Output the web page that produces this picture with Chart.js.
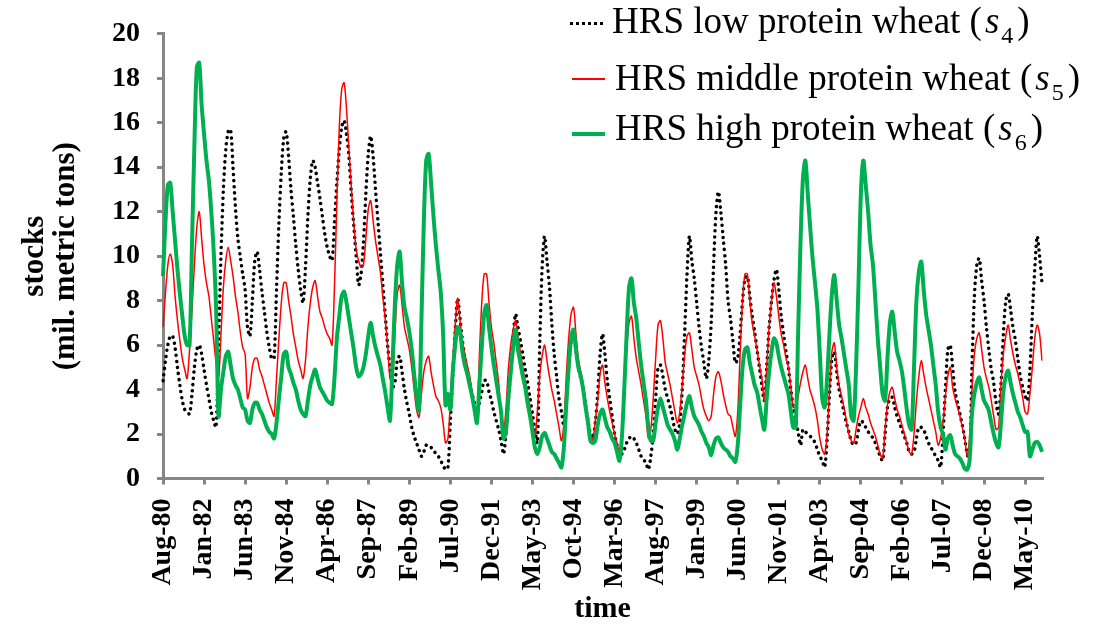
<!DOCTYPE html>
<html>
<head>
<meta charset="utf-8">
<script src="https://cdn.jsdelivr.net/npm/chart.js@4.4.1/dist/chart.umd.min.js"></script>
<style>
  body { margin: 0; background: #fff; }
  #wrap { position: relative; width: 1096px; height: 627px; overflow: hidden; }
  #legend { position: absolute; left: 0; top: 0; font-family: 'Liberation Serif', 'Times New Roman', serif; font-size: 37px; color: #000; }
  .item { position: absolute; white-space: nowrap; line-height: 37px; }
  .item i { margin-left: 3px; }
  .item .sub { font-size: 24px; position: relative; top: 10px; margin: 0 4px 0 2px; }
  .key { position: absolute; width: 33px; height: 0; }
</style>
</head>
<body>
<div id="wrap">
  <canvas id="chart" width="1096" height="627"></canvas>
  <div id="legend">
    <div class="key" style="left:570px; top:22px; border-top:3px dotted #000;"></div>
    <div class="item" style="left:612px; top:2px;">HRS low protein wheat (<i>s</i><span class="sub">4</span>)</div>
    <div class="key" style="left:572px; top:78px; border-top:2px solid #ff0000;"></div>
    <div class="item" style="left:615px; top:59px;">HRS middle protein wheat (<i>s</i><span class="sub">5</span>)</div>
    <div class="key" style="left:572px; top:132px; border-top:4px solid #00b050;"></div>
    <div class="item" style="left:615px; top:109px;">HRS high protein wheat (<i>s</i><span class="sub">6</span>)</div>
  </div>
</div>
<script>
// monthly stocks, Aug-80 .. Dec-10, one row per crop year (Aug..Jul)
const s4 = [
  4.4,5.3,6.0,6.4,6.4,5.9,5.0,4.2,3.5,3.1,3.0,2.9,
  3.8,5.0,5.8,6.0,5.6,4.9,4.2,3.6,3.0,2.6,2.3,6.0,
  10.0,13.0,14.8,15.6,15.7,14.0,12.2,10.8,10.0,9.2,8.5,6.8,
  6.4,8.0,9.8,10.2,9.4,8.4,7.5,6.6,5.9,5.4,5.4,8.5,
  11.5,13.8,15.3,15.6,14.5,13.0,11.8,10.5,9.4,8.5,7.9,9.5,
  11.8,13.5,14.3,14.0,13.3,12.6,11.8,11.0,10.4,10.0,9.8,11.5,
  13.3,14.8,15.8,16.1,15.5,14.5,12.8,11.4,10.0,8.7,9.2,10.6,
  12.8,14.6,15.4,14.5,13.0,11.6,10.2,8.8,7.4,6.0,5.0,4.1,
  4.3,5.3,5.5,4.8,4.0,3.4,2.9,2.3,1.9,1.6,1.3,1.0,
  1.2,1.5,1.5,1.4,1.3,1.1,1.0,0.8,0.6,0.4,0.5,2.6,
  4.6,6.6,8.1,7.2,6.2,5.4,4.8,4.3,3.8,3.4,3.0,3.4,
  3.9,4.4,4.4,3.9,3.5,3.0,2.6,2.2,1.7,1.1,2.0,3.5,
  4.8,6.3,7.4,6.8,6.2,5.6,4.9,4.3,3.6,2.9,2.2,1.6,
  6.0,9.5,10.9,9.8,8.7,7.0,5.6,4.6,3.6,3.0,2.4,3.5,
  5.0,6.2,6.7,5.8,5.0,4.5,4.0,3.3,2.6,2.0,1.8,2.5,
  3.8,5.6,6.5,5.6,4.4,3.6,2.8,2.0,1.5,1.1,1.1,1.3,
  1.6,1.8,1.9,1.8,1.6,1.3,1.0,0.85,0.7,0.4,1.0,2.0,
  3.6,5.0,5.1,4.6,4.0,3.6,3.2,2.7,2.2,2.0,2.5,4.0,
  6.5,9.2,10.9,9.8,9.0,7.9,6.8,5.9,5.2,4.5,5.3,7.0,
  9.6,12.0,12.9,12.0,10.8,9.6,8.0,7.2,6.2,5.2,5.4,6.5,
  8.0,9.0,9.1,8.2,7.3,6.6,5.8,5.0,4.2,3.5,5.0,6.8,
  8.0,8.9,9.4,8.5,7.3,6.5,5.7,5.0,4.0,3.2,2.6,2.1,
  1.5,2.2,2.1,2.0,1.9,1.8,1.6,1.3,1.0,0.8,0.5,1.8,
  3.8,5.4,5.7,4.8,4.0,3.5,3.0,2.5,2.1,1.7,1.5,1.6,
  2.2,2.6,2.5,2.3,2.1,2.0,1.8,1.6,1.3,1.0,0.8,2.0,
  3.2,3.6,3.65,3.2,2.8,2.5,2.2,1.9,1.6,1.2,1.1,1.2,
  1.8,2.3,2.3,2.2,1.9,1.6,1.4,1.2,1.0,0.8,0.5,2.0,
  4.0,5.8,6.0,5.0,3.9,3.4,2.9,2.4,1.8,1.1,0.8,5.0,
  8.2,9.6,9.9,8.9,8.0,6.8,5.8,4.9,4.3,3.4,2.9,4.2,
  6.5,8.0,8.3,7.6,6.8,6.2,5.4,4.6,4.1,3.7,3.5,4.9,
  7.4,9.4,10.9,10.0,8.8
];
const s5 = [
  6.8,8.3,9.6,10.1,9.6,8.2,7.1,6.2,5.4,4.9,4.5,5.8,
  7.6,9.6,11.3,12.0,10.8,9.6,8.8,8.2,7.2,6.2,5.2,4.5,
  6.5,8.6,9.8,10.4,9.8,9.1,8.2,7.5,6.6,5.9,5.6,3.6,
  4.1,5.0,5.4,5.4,4.9,4.6,4.2,3.8,3.4,3.1,2.8,4.5,
  6.3,7.9,8.8,8.8,8.0,7.3,6.5,5.9,5.3,4.9,4.5,5.3,
  6.8,7.9,8.6,8.9,8.2,7.5,7.2,6.8,6.5,6.3,6.0,8.6,
  12.5,15.8,17.5,17.8,16.6,14.8,13.1,11.5,10.3,9.8,9.5,9.6,
  10.8,12.1,12.5,11.6,10.7,10.0,9.3,8.2,7.2,6.0,4.5,4.3,
  6.4,8.3,8.7,7.8,6.8,6.3,5.8,5.0,4.0,3.1,2.75,3.8,
  4.8,5.3,5.5,4.8,4.2,3.7,3.5,3.2,2.5,1.6,1.8,3.5,
  5.4,6.9,8.1,7.1,6.2,5.6,5.1,4.6,3.9,3.0,2.8,5.5,
  7.9,9.2,9.2,7.9,6.8,6.1,5.2,4.3,3.0,2.1,3.1,4.9,
  6.0,6.7,7.1,6.4,5.7,5.0,4.4,3.8,3.2,2.6,1.9,3.0,
  4.6,5.5,6.0,5.3,4.6,4.0,3.5,2.9,2.3,1.7,2.5,4.6,
  6.3,7.4,7.7,6.5,5.4,4.8,4.2,3.4,2.7,2.0,1.7,2.6,
  3.5,4.7,5.1,4.3,3.6,3.0,2.5,2.0,1.6,1.2,1.9,4.0,
  5.8,7.0,7.3,6.3,5.4,4.8,4.2,3.5,2.8,1.8,2.2,3.6,
  5.4,6.9,7.1,6.3,5.2,4.7,4.2,3.6,3.0,2.5,3.0,4.2,
  5.5,6.4,6.55,5.8,5.0,4.6,4.2,3.6,3.1,2.8,2.6,2.8,
  3.8,4.6,4.8,4.4,3.8,3.3,2.9,2.8,2.3,1.9,3.0,5.6,
  8.0,9.2,9.2,8.0,7.0,6.4,5.8,5.1,4.5,3.5,5.0,6.8,
  8.0,8.8,8.2,7.3,6.5,6.0,5.4,5.0,4.1,3.2,3.2,3.7,
  4.3,4.8,5.1,4.5,3.95,3.6,3.2,2.6,1.8,1.3,1.1,2.0,
  4.0,5.7,6.1,5.0,4.2,3.7,3.2,2.6,2.0,1.7,1.6,2.2,
  2.8,3.2,3.6,3.2,2.9,2.5,2.2,1.9,1.5,1.1,0.9,2.2,
  3.3,3.9,4.1,3.6,3.1,2.8,2.4,2.0,1.6,1.2,1.1,2.0,
  3.5,4.6,5.3,4.7,4.1,3.6,3.1,2.6,2.1,1.5,1.8,2.5,
  3.7,4.6,5.0,4.1,3.6,3.2,2.8,2.3,1.8,1.0,1.8,4.0,
  5.6,6.3,6.55,5.8,5.0,4.5,4.1,3.5,2.8,2.2,2.3,4.2,
  5.6,6.4,6.9,6.2,5.6,5.1,4.7,4.2,3.65,3.0,2.9,3.8,
  5.0,6.3,6.9,6.5,5.3
];
const s6 = [
  9.1,11.5,13.2,13.3,12.0,10.7,9.4,8.3,7.3,6.4,6.0,6.0,
  10.5,15.0,18.5,18.7,16.8,15.5,14.3,13.4,12.0,10.2,7.6,2.8,
  4.0,4.8,5.5,5.7,5.1,4.5,4.2,4.0,3.6,3.2,3.1,2.6,
  2.5,3.1,3.4,3.4,3.1,2.9,2.6,2.3,2.1,2.0,1.8,2.5,
  3.6,4.6,5.6,5.7,5.0,4.7,4.3,4.0,3.5,3.1,2.9,2.8,
  3.5,4.2,4.6,4.9,4.5,4.1,3.9,3.7,3.5,3.4,3.35,4.5,
  6.3,7.3,8.2,8.4,7.9,7.2,6.5,5.8,5.0,4.6,4.7,5.0,
  5.6,6.4,7.0,6.4,5.9,5.5,5.1,4.5,3.9,3.2,2.6,5.0,
  7.8,9.6,10.2,8.8,7.7,7.2,6.6,5.8,4.7,3.7,3.05,7.0,
  11.5,14.3,14.6,13.3,11.8,10.5,9.4,8.4,6.5,3.3,3.8,3.1,
  4.8,6.0,6.8,6.6,5.7,5.1,4.7,4.2,3.7,3.1,2.5,4.2,
  5.9,7.4,7.8,6.8,5.9,5.1,4.4,3.7,3.0,1.8,2.1,3.6,
  4.8,5.9,6.7,5.8,5.2,4.6,4.1,3.4,2.8,2.1,1.4,1.1,
  1.4,1.9,2.05,1.8,1.5,1.2,1.1,0.9,0.7,0.5,1.4,3.3,
  5.0,6.3,6.7,5.8,5.0,4.6,4.0,3.2,2.5,1.7,1.6,1.7,
  2.4,2.9,3.1,2.7,2.3,2.1,1.8,1.6,1.2,0.8,1.8,4.0,
  6.5,8.6,9.0,7.9,7.2,6.1,5.1,4.3,3.5,2.3,1.7,1.7,
  2.5,3.2,3.6,3.2,2.8,2.4,2.2,2.0,1.7,1.3,1.8,2.4,
  2.9,3.4,3.7,3.2,2.8,2.6,2.4,2.1,1.9,1.6,1.4,1.05,
  1.5,1.8,1.85,1.6,1.4,1.3,1.2,1.0,0.9,0.75,1.5,3.3,
  5.0,5.8,5.9,5.2,4.7,4.2,3.9,3.3,2.7,2.2,3.6,4.8,
  5.7,6.3,6.1,5.5,5.0,4.6,4.2,3.8,3.0,2.3,2.3,6.5,
  10.6,13.5,14.3,12.8,11.3,9.9,8.8,7.6,5.6,3.6,3.2,4.5,
  6.5,8.3,9.15,8.0,6.9,6.3,5.6,4.9,4.2,2.8,2.6,5.0,
  8.7,12.8,14.3,13.2,12.0,10.5,9.6,8.0,6.3,5.0,3.8,3.5,
  5.4,7.0,7.5,6.6,5.7,5.3,4.8,4.0,3.1,2.4,2.2,5.0,
  8.0,9.3,9.75,8.5,7.4,6.7,6.0,5.1,4.2,3.0,2.3,2.0,
  1.3,1.8,1.95,1.5,1.1,1.0,0.9,0.7,0.45,0.4,0.8,2.9,
  3.8,4.3,4.55,4.0,3.5,3.3,3.05,2.5,2.0,1.6,1.4,2.5,
  3.9,4.6,4.85,4.3,3.8,3.4,3.0,2.75,2.4,2.1,2.1,1.0,
  1.3,1.6,1.65,1.5,1.2
];

// labelled every 17 months
const tickLabels = ['Aug-80','Jan-82','Jun-83','Nov-84','Apr-86','Sep-87','Feb-89','Jul-90',
  'Dec-91','May-93','Oct-94','Mar-96','Aug-97','Jan-99','Jun-00','Nov-01','Apr-03','Sep-04',
  'Feb-06','Jul-07','Dec-08','May-10'];
const tickStep = 17;

const monthNames = ['Jan','Feb','Mar','Apr','May','Jun','Jul','Aug','Sep','Oct','Nov','Dec'];
const categories = [];
for (let k = 0; k < s4.length; k++) {
  const n = 7 + k;
  categories.push(monthNames[n % 12] + '-' + String(1980 + Math.floor(n / 12)).slice(2));
}

Chart.defaults.font.family = "'Liberation Serif', 'Times New Roman', serif";
Chart.defaults.color = '#000';

const axisGrey = '#868686';

new Chart(document.getElementById('chart'), {
  type: 'line',
  data: {
    labels: categories,
    datasets: [
      { label: 'HRS low protein wheat (s4)', data: s4, borderColor: '#000', borderWidth: 3.5,
        borderDash: [0.1, 6], borderCapStyle: 'round', tension: 0.3,
        pointRadius: 0, fill: false, order: 3 },
      { label: 'HRS middle protein wheat (s5)', data: s5, borderColor: '#ff0000', borderWidth: 1.5,
        tension: 0.3, pointRadius: 0, fill: false, order: 2 },
      { label: 'HRS high protein wheat (s6)', data: s6, borderColor: '#00b050', borderWidth: 4,
        tension: 0.3, pointRadius: 0, fill: false, order: 1 }
    ]
  },
  options: {
    responsive: false,
    animation: false,
    layout: { padding: { top: 30, right: 54, left: 0, bottom: 0 } },
    plugins: { legend: { display: false }, tooltip: { enabled: false } },
    scales: {
      x: {
        grid: { drawOnChartArea: false, drawTicks: true, tickLength: 6, color: axisGrey, lineWidth: 3 },
        border: { color: axisGrey, width: 3 },
        ticks: {
          autoSkip: false, minRotation: 90, maxRotation: 90, padding: 14,
          font: { size: 28, weight: 'bold' },
          callback: (v, i) => (i % tickStep === 0 ? tickLabels[i / tickStep] : null)
        },
        title: { display: true, text: 'time', font: { size: 30, weight: 'bold' }, padding: { top: 0, bottom: 0 } },
        afterFit: (s) => { s.height = 148.5; }
      },
      y: {
        min: 0, max: 20,
        grid: { drawOnChartArea: false, drawTicks: true, tickLength: 6, color: axisGrey, lineWidth: 3 },
        border: { color: axisGrey, width: 3 },
        ticks: { stepSize: 2, padding: 17, font: { size: 28, weight: 'bold' } },
        title: {
          display: true, text: ['stocks', '(mil. metric tons)'],
          font: { size: 31, weight: 'bold', lineHeight: 1.0 }, padding: { top: 19, bottom: 0 }
        },
        afterFit: (s) => { s.width = 163; }
      }
    }
  }
});
</script>
</body>
</html>
